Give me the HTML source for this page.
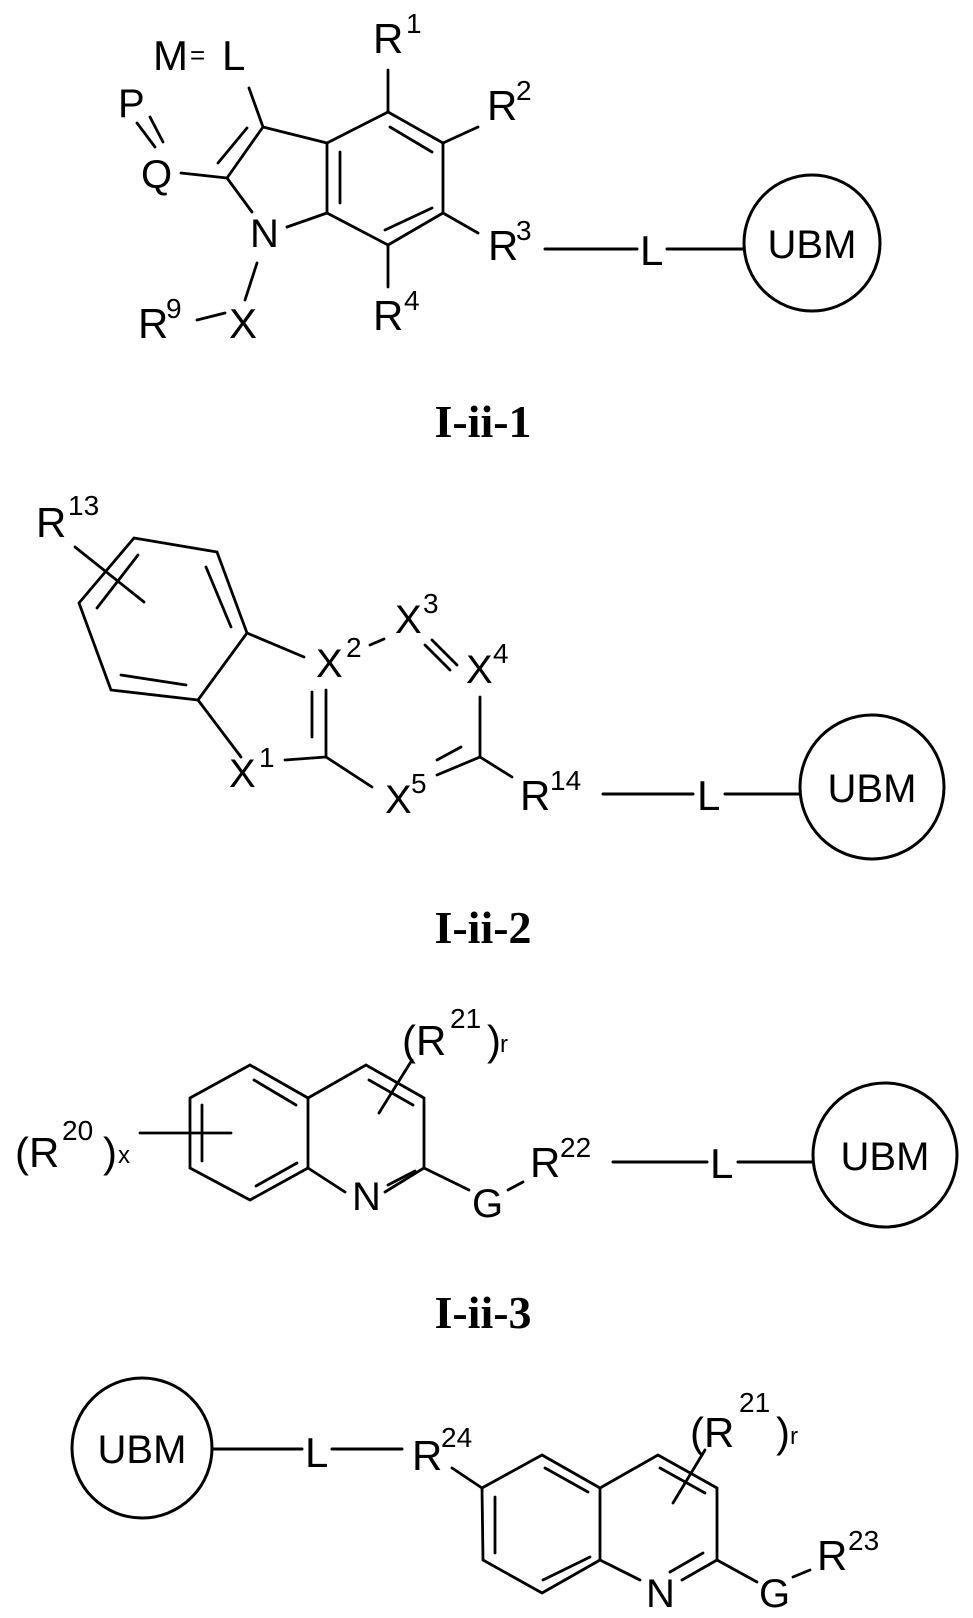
<!DOCTYPE html>
<html><head><meta charset="utf-8"><style>
html,body{margin:0;padding:0;background:#fff}
svg{display:block}
text{font-family:"Liberation Sans",sans-serif;fill:#000}
.s{font-size:28px}
.b{font-family:"Liberation Serif",serif;font-weight:bold;font-size:46px}
.u{font-size:40px}
</style></head><body>
<svg width="973" height="1618" viewBox="0 0 973 1618" xmlns="http://www.w3.org/2000/svg">
<g stroke="#000" stroke-width="2.8" fill="none" stroke-linecap="round">
<!-- Structure 1 -->
<line x1="249" y1="88" x2="263" y2="127"/>
<line x1="263" y1="127" x2="327" y2="143"/>
<line x1="227" y1="178" x2="263" y2="127"/>
<line x1="218" y1="163" x2="247" y2="128"/>
<line x1="181" y1="173" x2="227" y2="178"/>
<line x1="227" y1="178" x2="252" y2="212"/>
<line x1="287" y1="227" x2="327" y2="213"/>
<line x1="327" y1="143" x2="327" y2="213"/>
<line x1="340" y1="152" x2="340" y2="203"/>
<line x1="327" y1="143" x2="388" y2="112"/>
<line x1="388" y1="112" x2="388" y2="70"/>
<line x1="388" y1="112" x2="443" y2="143"/>
<line x1="390" y1="127" x2="432" y2="152"/>
<line x1="443" y1="143" x2="478" y2="127"/>
<line x1="443" y1="143" x2="443" y2="213"/>
<line x1="443" y1="213" x2="478" y2="233"/>
<line x1="443" y1="213" x2="388" y2="245"/>
<line x1="385" y1="230" x2="432" y2="208"/>
<line x1="388" y1="245" x2="327" y2="213"/>
<line x1="388" y1="245" x2="388" y2="287"/>
<line x1="257" y1="263" x2="245" y2="300"/>
<line x1="197" y1="320" x2="225" y2="313"/>
<line x1="137" y1="123" x2="155" y2="147"/>
<line x1="150" y1="117" x2="163" y2="142"/>
<line x1="545" y1="249" x2="637" y2="249" stroke-width="3"/>
<line x1="667" y1="249" x2="744" y2="249" stroke-width="3"/>
<circle cx="812" cy="243" r="68" stroke-width="3"/>

<!-- Structure 2 -->
<polygon points="134,538 217,552 247,633 198,700 111,690 79,603"/>
<line x1="206" y1="567" x2="231" y2="627"/>
<line x1="121" y1="675" x2="186" y2="685"/>
<line x1="75" y1="547" x2="144" y2="602"/>
<line x1="97" y1="608" x2="138" y2="555"/>
<line x1="247" y1="633" x2="304" y2="657"/>
<line x1="370" y1="645" x2="384" y2="639"/>
<line x1="425" y1="645" x2="450" y2="670"/>
<line x1="432" y1="640" x2="457" y2="665"/>
<line x1="480" y1="697" x2="480" y2="757"/>
<line x1="480" y1="757" x2="512" y2="777"/>
<line x1="480" y1="757" x2="437" y2="775"/>
<line x1="461" y1="747" x2="437" y2="760"/>
<line x1="372" y1="787" x2="326" y2="757"/>
<line x1="326" y1="690" x2="326" y2="757"/>
<line x1="312" y1="692" x2="312" y2="737"/>
<line x1="285" y1="760" x2="326" y2="757"/>
<line x1="198" y1="700" x2="241" y2="757"/>
<line x1="603" y1="794" x2="693" y2="794" stroke-width="3"/>
<line x1="725" y1="794" x2="800" y2="794" stroke-width="3"/>
<circle cx="872" cy="787" r="72" stroke-width="3"/>

<!-- Structure 3 -->
<polygon points="250,1065 308,1098 308,1168 250,1200 190,1168 190,1098"/>
<polyline points="308,1098 366,1065 424,1098 424,1168 385,1192"/>
<line x1="345" y1="1192" x2="308" y2="1168"/>
<line x1="254" y1="1080" x2="296" y2="1105"/>
<line x1="256" y1="1186" x2="297" y2="1163"/>
<line x1="202" y1="1105" x2="202" y2="1161"/>
<line x1="369" y1="1080" x2="413" y2="1105"/>
<line x1="388" y1="1185" x2="415" y2="1171"/>
<line x1="140" y1="1133" x2="231" y2="1133"/>
<line x1="379" y1="1113" x2="412" y2="1060"/>
<line x1="424" y1="1168" x2="469" y2="1190"/>
<line x1="508" y1="1190" x2="523" y2="1182"/>
<line x1="613" y1="1162" x2="707" y2="1162" stroke-width="3"/>
<line x1="738" y1="1162" x2="813" y2="1162" stroke-width="3"/>
<circle cx="885" cy="1155" r="72" stroke-width="3"/>

<!-- Structure 4 -->
<circle cx="142" cy="1448" r="70" stroke-width="3"/>
<line x1="213" y1="1449" x2="302" y2="1449" stroke-width="3"/>
<line x1="332" y1="1449" x2="402" y2="1449" stroke-width="3"/>
<line x1="452" y1="1468" x2="482" y2="1488"/>
<polygon points="482,1488 542,1455 600,1488 600,1560 542,1593 483,1560"/>
<polyline points="600,1488 658,1455 717,1488 717,1560 682,1580"/>
<line x1="640" y1="1580" x2="600" y2="1560"/>
<line x1="495" y1="1497" x2="495" y2="1553"/>
<line x1="545" y1="1468" x2="588" y2="1492"/>
<line x1="543" y1="1580" x2="590" y2="1557"/>
<line x1="660" y1="1468" x2="705" y2="1493"/>
<line x1="670" y1="1572" x2="703" y2="1553"/>
<line x1="673" y1="1503" x2="705" y2="1450"/>
<line x1="717" y1="1560" x2="757" y2="1582"/>
<line x1="793" y1="1577" x2="810" y2="1570"/>
</g>

<!-- Text structure 1 -->
<text x="153" y="70" font-size="42">M</text>
<text x="190" y="64" font-size="26">=</text>
<text x="222" y="70" font-size="42">L</text>
<text x="118" y="117" font-size="40">P</text>
<text x="141" y="188" font-size="40">Q</text>
<text x="250" y="247" font-size="40">N</text>
<text x="373" y="53" font-size="42">R</text><text x="406" y="33" class="s">1</text>
<text x="487" y="120" font-size="42">R</text><text x="516" y="100" class="s">2</text>
<text x="488" y="260" font-size="42">R</text><text x="516" y="240" class="s">3</text>
<text x="373" y="330" font-size="42">R</text><text x="404" y="310" class="s">4</text>
<text x="138" y="338" font-size="42">R</text><text x="166" y="318" class="s">9</text>
<text x="229" y="338" font-size="42">X</text>
<text x="640" y="265" font-size="42">L</text>
<text x="812" y="258" class="u" text-anchor="middle">UBM</text>
<text x="483" y="437" class="b" text-anchor="middle">I-ii-1</text>

<!-- Text structure 2 -->
<text x="36" y="537" font-size="42">R</text><text x="68" y="515" class="s">13</text>
<text x="316" y="677" font-size="40">X</text><text x="346" y="657" class="s">2</text>
<text x="395" y="633" font-size="40">X</text><text x="423" y="613" class="s">3</text>
<text x="466" y="683" font-size="40">X</text><text x="493" y="663" class="s">4</text>
<text x="385" y="813" font-size="40">X</text><text x="411" y="793" class="s">5</text>
<text x="229" y="787" font-size="40">X</text><text x="259" y="767" class="s">1</text>
<text x="520" y="810" font-size="42">R</text><text x="550" y="790" class="s">14</text>
<text x="697" y="810" font-size="42">L</text>
<text x="872" y="802" class="u" text-anchor="middle">UBM</text>
<text x="483" y="943" class="b" text-anchor="middle">I-ii-2</text>

<!-- Text structure 3 -->
<text x="15" y="1167" font-size="42">(R</text><text x="62" y="1140" class="s">20</text>
<text x="103" y="1167" font-size="42">)</text><text x="118" y="1163" font-size="24">x</text>
<text x="402" y="1055" font-size="42">(R</text><text x="450" y="1028" class="s">21</text>
<text x="487" y="1055" font-size="42">)</text><text x="500" y="1052" font-size="24">r</text>
<text x="352" y="1210" font-size="40">N</text>
<text x="472" y="1217" font-size="40">G</text>
<text x="530" y="1177" font-size="42">R</text><text x="560" y="1157" class="s">22</text>
<text x="710" y="1178" font-size="42">L</text>
<text x="885" y="1170" class="u" text-anchor="middle">UBM</text>
<text x="483" y="1328" class="b" text-anchor="middle">I-ii-3</text>

<!-- Text structure 4 -->
<text x="142" y="1463" class="u" text-anchor="middle">UBM</text>
<text x="305" y="1467" font-size="42">L</text>
<text x="412" y="1470" font-size="42">R</text><text x="441" y="1447" class="s">24</text>
<text x="690" y="1447" font-size="42">(R</text><text x="739" y="1412" class="s">21</text>
<text x="776" y="1447" font-size="42">)</text><text x="790" y="1444" font-size="24">r</text>
<text x="646" y="1607" font-size="40">N</text>
<text x="759" y="1607" font-size="40">G</text>
<text x="817" y="1570" font-size="42">R</text><text x="848" y="1550" class="s">23</text>
</svg>
</body></html>
